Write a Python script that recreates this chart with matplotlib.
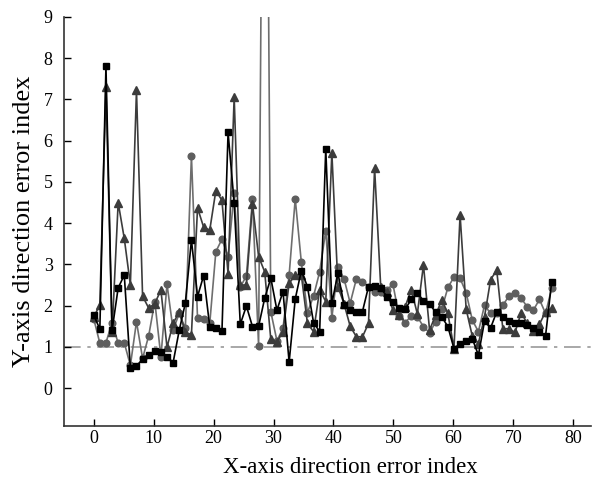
import numpy as np
import matplotlib
matplotlib.use("Agg")
import matplotlib.pyplot as plt

plt.rcParams["font.family"] = ["Liberation Serif", "DejaVu Serif"]

# mean error values per point
square_vals = [1.77, 1.43, 7.80, 1.40, 2.43, 2.74, 0.50, 0.54, 0.70, 0.80,
               0.89, 0.87, 0.76, 0.62, 1.40, 2.06, 3.59, 2.22, 2.73, 1.49,
               1.46, 1.38, 6.20, 4.49, 1.55, 1.99, 1.49, 1.50, 2.18, 2.67,
               1.89, 2.34, 0.63, 2.16, 2.85, 2.46, 1.59, 1.37, 5.80, 2.06,
               2.79, 2.01, 1.89, 1.85, 1.85, 2.46, 2.47, 2.43, 2.22, 2.08,
               1.95, 1.91, 2.15, 2.31, 2.12, 2.04, 1.84, 1.73, 1.49, 0.96,
               1.08, 1.15, 1.20, 0.80, 1.62, 1.46, 1.85, 1.73, 1.63, 1.59,
               1.57, 1.53, 1.46, 1.37, 1.27, 2.58]

triangle_vals = [1.72, 2.02, 7.30, 1.35, 4.50, 3.63, 2.50, 7.22, 2.23, 1.94,
                 2.05, 2.38, 0.99, 1.57, 1.85, 1.35, 1.30, 4.37, 3.90, 3.83,
                 4.79, 4.55, 2.77, 7.06, 2.50, 2.50, 4.47, 3.19, 2.82, 1.18,
                 1.12, 1.37, 2.54, 2.74, 2.74, 1.57, 1.37, 2.38, 2.10, 5.70,
                 2.46, 2.04, 1.50, 1.25, 1.24, 1.57, 5.33, 2.46, 2.34, 1.89,
                 1.77, 1.97, 2.39, 1.80, 2.99, 1.41, 1.77, 2.14, 1.81, 0.96,
                 4.20, 1.91, 1.26, 1.08, 1.73, 2.63, 2.86, 1.44, 1.44, 1.35,
                 1.83, 1.57, 1.38, 1.55, 1.85, 1.94]

circle_vals = [1.68, 1.09, 1.10, 1.59, 1.09, 1.10, 0.55, 1.61, 0.72, 1.27,
               2.10, 0.76, 2.52, 1.41, 1.81, 1.45, 5.63, 1.69, 1.67, 1.57,
               3.31, 3.61, 3.19, 4.73, 2.45, 2.72, 4.58, 1.02, 22.0, 1.85,
               1.15, 1.45, 2.74, 4.59, 3.05, 1.83, 2.23, 2.82, 3.82, 1.71,
               2.94, 2.65, 2.06, 2.64, 2.58, 2.45, 2.34, 2.34, 2.38, 2.52,
               1.75, 1.59, 1.75, 1.73, 1.49, 1.34, 1.61, 1.91, 2.44, 2.69,
               2.66, 2.31, 1.65, 1.37, 2.01, 1.81, 1.83, 2.01, 2.23, 2.31,
               2.18, 1.97, 1.89, 2.15, 1.81, 2.42]

x_ticks = [0, 10, 20, 30, 40, 50, 60, 70, 80]
y_ticks = [0, 1, 2, 3, 4, 5, 6, 7, 8, 9]
threshold = 1.0

x = np.linspace(0, 76.4, len(square_vals))

fig = plt.figure(figsize=(5.96, 4.82), dpi=100)
ax = fig.add_axes([0.107, 0.116, 0.885, 0.849])

ax.plot(x, circle_vals, color="#6e6e6e", lw=1.2, marker="o", ms=4.8,
        mfc="#5e5e5e", mec="#5e5e5e", zorder=2)
ax.plot(x, triangle_vals, color="#3c3c3c", lw=1.2, marker="^", ms=5.3,
        mfc="#3c3c3c", mec="#3c3c3c", zorder=3)
ax.plot(x, square_vals, color="black", lw=1.2, marker="s", ms=4.2,
        mfc="black", mec="black", zorder=4)

ax.axhline(threshold, color="#9a9a9a", lw=1.2, ls=(0, (10, 4, 2, 4)), zorder=1)

ax.set_xlim(-5, 83)
ax.set_ylim(-0.92, 9)
ax.set_xticks(x_ticks)
ax.set_yticks(y_ticks)
ax.tick_params(direction="in", length=5, width=1, labelsize=13)
ax.tick_params(axis="x", pad=3)
ax.tick_params(axis="y", pad=8)

for side in ["top", "right"]:
    ax.spines[side].set_visible(False)
for side in ["left", "bottom"]:
    ax.spines[side].set_linewidth(1.2)
    ax.spines[side].set_color("#333333")

ax.set_xlabel("X-axis direction error index", fontsize=16.5)
ax.xaxis.set_label_coords(0.543, -0.075)
ax.set_ylabel("Y-axis direction error index", fontsize=19, labelpad=6)

fig.savefig("out.png", dpi=100)
